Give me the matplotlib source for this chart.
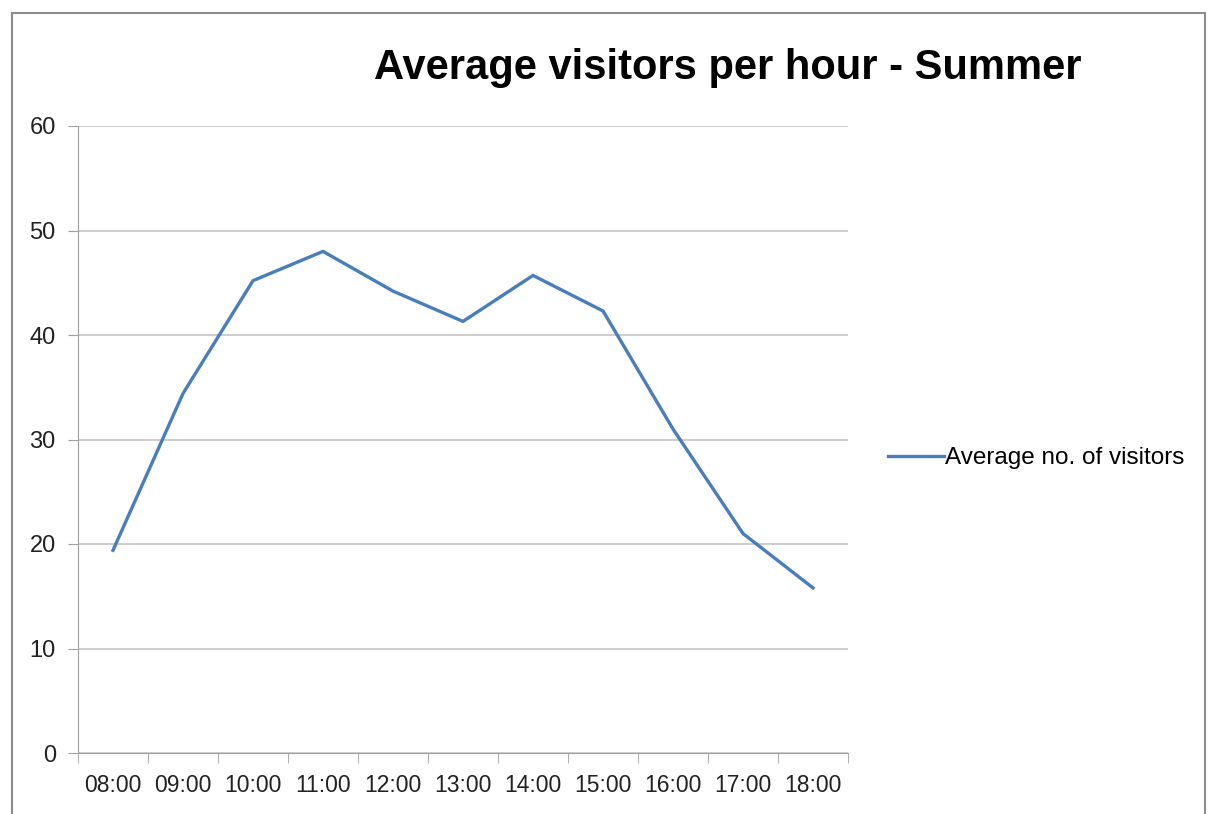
import matplotlib
matplotlib.use("Agg")
import matplotlib.pyplot as plt
from matplotlib.patches import Rectangle
import numpy as np

hours = ["08:00", "09:00", "10:00", "11:00", "12:00", "13:00",
         "14:00", "15:00", "16:00", "17:00", "18:00"]
visitors = [19.4, 34.4, 45.2, 48.0, 44.2, 41.3, 45.7, 42.3, 31.0, 21.0, 15.8]
y_ticks = [0, 10, 20, 30, 40, 50, 60]

title = "Average visitors per hour - Summer"
series_name = "Average no. of visitors"

plt.rcParams['font.family'] = ['Liberation Sans', 'DejaVu Sans']

fig = plt.figure(figsize=(12.18, 8.14), dpi=100)
fig.patch.set_facecolor("white")

# outer chart frame
fig.patches.append(Rectangle((12 / 1218, -0.05), (1205 - 12) / 1218, 1.05 - 13 / 814,
                             transform=fig.transFigure, fill=False,
                             edgecolor="#8c8c8c", linewidth=1.5))

ax = fig.add_axes([78 / 1218, 1 - 753 / 814, (848 - 78) / 1218, (753 - 126) / 814])

x = np.arange(len(hours))
ax.plot(x, visitors, color="#4A7EBB", linewidth=2.4, label=series_name,
        solid_joinstyle="miter")

ax.set_xlim(-0.5, len(hours) - 0.5)
ax.set_ylim(0, 60)
ax.set_yticks(y_ticks)
ax.set_xticks(x)
ax.set_xticklabels(hours)
ax.set_xticks(np.arange(-0.5, len(hours)), minor=True)

ax.grid(axis="y", color="#c0c0c0", linewidth=1.1)
ax.set_axisbelow(True)

for side in ["top", "right"]:
    ax.spines[side].set_visible(False)
ax.spines["left"].set_color("#a0a0a0")
ax.spines["bottom"].set_color("#a0a0a0")

ax.tick_params(axis="x", which="major", length=0, pad=15, labelsize=16.5, colors="#222222")
ax.tick_params(axis="x", which="minor", length=7, color="#a0a0a0")
ax.tick_params(axis="y", length=7, color="#a0a0a0", pad=9, labelsize=17, labelcolor="#222222")

fig.text(728 / 1218, 1 - 68 / 814, title, ha="center", va="center",
         fontsize=30, fontweight="bold", color="black")

leg = fig.legend(loc="center left", bbox_to_anchor=(878 / 1218, 1 - 458 / 814),
                 frameon=False, fontsize=17.5, handlelength=2.3, handletextpad=0.05,
                 borderaxespad=0)

fig.savefig("out.png", dpi=100, facecolor="white")
